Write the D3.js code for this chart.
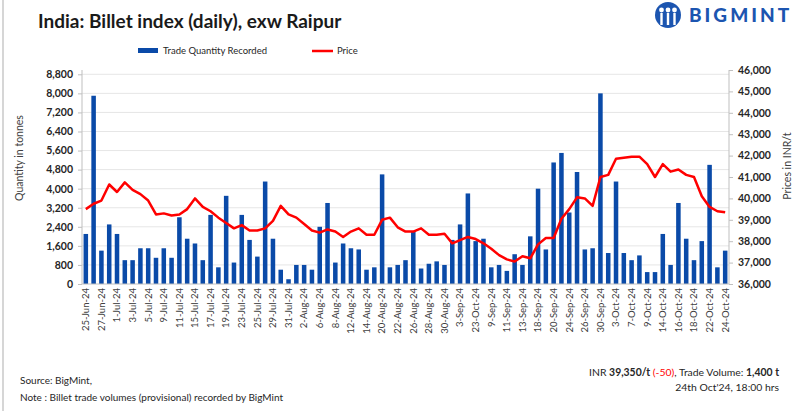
<!DOCTYPE html>
<html><head><meta charset="utf-8">
<script src="https://cdn.jsdelivr.net/npm/d3@7/dist/d3.min.js"></script>
<style>body{margin:0;background:#fff;} svg{display:block;font-family:Lato,"Open Sans",sans-serif;}</style>
</head><body>
<svg id="chart" width="795" height="411"></svg>
<script>
const dates = ["25-Jun-24","26-Jun-24","27-Jun-24","28-Jun-24","1-Jul-24","2-Jul-24","3-Jul-24","4-Jul-24","5-Jul-24","8-Jul-24",
"9-Jul-24","10-Jul-24","11-Jul-24","12-Jul-24","15-Jul-24","16-Jul-24","17-Jul-24","18-Jul-24","19-Jul-24","22-Jul-24",
"23-Jul-24","24-Jul-24","25-Jul-24","26-Jul-24","29-Jul-24","30-Jul-24","31-Jul-24","1-Aug-24","2-Aug-24","5-Aug-24",
"6-Aug-24","7-Aug-24","8-Aug-24","9-Aug-24","12-Aug-24","13-Aug-24","14-Aug-24","16-Aug-24","20-Aug-24","21-Aug-24",
"22-Aug-24","23-Aug-24","26-Aug-24","27-Aug-24","28-Aug-24","29-Aug-24","30-Aug-24","2-Sep-24","3-Sep-24","4-Sep-24",
"23-Oct-24","6-Sep-24","9-Sep-24","10-Sep-24","11-Sep-24","12-Sep-24","13-Sep-24","17-Sep-24","18-Sep-24","19-Sep-24",
"20-Sep-24","23-Sep-24","24-Sep-24","25-Sep-24","26-Sep-24","27-Sep-24","30-Sep-24","1-Oct-24","3-Oct-24","4-Oct-24",
"7-Oct-24","8-Oct-24","9-Oct-24","11-Oct-24","14-Oct-24","15-Oct-24","16-Oct-24","17-Oct-24","18-Oct-24","21-Oct-24",
"22-Oct-24","23-Oct-24","24-Oct-24"];
const quantity = [2100,7900,1400,2500,2100,1000,1000,1500,1500,1100,
1500,1100,2800,1900,1700,1000,2900,700,3700,900,
2900,1850,1150,4300,1900,600,200,800,800,600,
2400,3400,900,1700,1500,1450,600,700,4600,700,
800,1000,2200,650,850,950,800,1850,2500,3800,
1800,1900,700,800,550,1250,800,2000,4000,1450,
5100,5500,3000,4700,1450,1500,8000,1300,4300,1300,
1000,1200,500,500,2100,800,3400,1900,1000,1800,
5000,700,1400];
const price = [39500,39750,39900,40650,40300,40750,40400,40200,39900,39250,
39300,39200,39250,39500,40000,39600,39400,39100,38850,38600,
38750,38500,38500,38600,38950,39650,39250,39100,38800,38500,
38400,38550,38450,38200,38450,38600,38300,38300,39000,39100,
38650,38450,38450,38600,38300,38300,38350,37900,38050,38200,
38100,37900,37650,37350,37150,37050,37300,37200,37850,38150,
38150,39050,39500,40050,40000,39650,41000,41100,41850,41900,
41950,41950,41600,41000,41600,41250,41350,41100,41000,40100,
39600,39400,39350];
const leftTicks = [0,800,1600,2400,3200,4000,4800,5600,6400,7200,8000,8800];
const rightTicks = [36000,37000,38000,39000,40000,41000,42000,43000,44000,45000,46000];

const svg = d3.select("#chart");
const X0 = 82, X1 = 729, YB = 284;
const idx = d3.range(dates.length);
const x = d3.scaleBand().domain(idx).range([X0, X1]).paddingInner(0.42).paddingOuter(0.2);
const yL = d3.scaleLinear().domain([0, 8800]).range([YB, 74.3]);
const yR = d3.scaleLinear().domain([36000, 46000]).range([YB, 70]);
const fmt = d3.format(",");

// frame line
svg.append("line").attr("x1",3).attr("x2",3).attr("y1",0).attr("y2",411).attr("stroke","#c8c8c8").attr("stroke-width",1.5);

// title
svg.append("text").attr("x",38).attr("y",28).attr("font-size",19).attr("font-weight","bold").attr("fill","#1a1a1a")
  .text("India: Billet index (daily), exw Raipur");

// logo
const logo = svg.append("g").attr("transform","translate(668,15)");
logo.append("circle").attr("r",13).attr("fill","#1c55b0");
[-6.5,0,6.5].forEach(dx=>{
  logo.append("circle").attr("cx",dx).attr("cy",-5).attr("r",2.4).attr("fill","#fff");
  logo.append("rect").attr("x",dx-1.2).attr("y",-2).attr("width",2.4).attr("height",12).attr("fill","#fff");
});
svg.append("text").attr("x",689).attr("y",22).attr("font-size",19).attr("font-weight","900").attr("letter-spacing",3)
  .attr("fill","#1c55b0").text("BIGMINT");

// legend
svg.append("rect").attr("x",138).attr("y",48).attr("width",20).attr("height",5).attr("fill","#0a4aa8");
svg.append("text").attr("x",163).attr("y",54).attr("font-size",9.5).attr("fill","#262626").text("Trade Quantity Recorded");
svg.append("line").attr("x1",312).attr("x2",333).attr("y1",51).attr("y2",51).attr("stroke","#ff0000").attr("stroke-width",2.5);
svg.append("text").attr("x",337).attr("y",54).attr("font-size",9.5).attr("fill","#262626").text("Price");

// gridlines
svg.append("g").selectAll("line").data(leftTicks.slice(1)).join("line")
  .attr("x1",X0).attr("x2",X1).attr("y1",d=>yL(d)).attr("y2",d=>yL(d)).attr("stroke","#e6e6e6").attr("stroke-width",1);

// bars
svg.append("g").selectAll("rect").data(quantity).join("rect")
  .attr("x",(d,i)=>x(i)).attr("width",x.bandwidth()).attr("y",d=>yL(d)).attr("height",d=>YB-yL(d)).attr("fill","#0a4aa8");

// price line
svg.append("path").datum(price)
  .attr("d", d3.line().x((d,i)=>x(i)+x.bandwidth()/2).y(d=>yR(d)).curve(d3.curveLinear))
  .attr("fill","none").attr("stroke","#ff0000").attr("stroke-width",2.5).attr("stroke-linejoin","round");

// left axis
const la = svg.append("g").attr("transform",`translate(${X0},0)`)
  .call(d3.axisLeft(yL).tickValues(leftTicks).tickFormat(fmt).tickSize(4).tickPadding(5));
la.select(".domain").remove();
la.append("line").attr("x1",0).attr("x2",0).attr("y1",70).attr("y2",YB).attr("stroke","#bfbfbf");
la.selectAll(".tick line").attr("stroke","#bfbfbf");
la.selectAll(".tick text").attr("font-size",10.5).attr("font-weight","bold").attr("fill","#262626").attr("font-family","Lato");

// right axis
const ra = svg.append("g").attr("transform",`translate(${X1},0)`)
  .call(d3.axisRight(yR).tickValues(rightTicks).tickFormat(fmt).tickSize(4).tickPadding(5));
ra.select(".domain").remove();
ra.append("line").attr("x1",0).attr("x2",0).attr("y1",70).attr("y2",YB).attr("stroke","#bfbfbf");
ra.selectAll(".tick line").attr("stroke","#bfbfbf");
ra.selectAll(".tick text").attr("font-size",10.5).attr("font-weight","bold").attr("fill","#262626").attr("font-family","Lato");

// bottom axis
svg.append("line").attr("x1",X0).attr("x2",X1).attr("y1",YB).attr("y2",YB).attr("stroke","#bfbfbf");
const ba = svg.append("g").attr("transform",`translate(0,${YB})`)
  .call(d3.axisBottom(x).tickValues(idx.filter(i=>i%2===0)).tickFormat(i=>dates[i]).tickSize(0).tickPadding(0));
ba.select(".domain").remove();
ba.selectAll(".tick text").attr("font-size",9.5).attr("fill","#404040").attr("font-family","Lato")
  .attr("text-anchor","end").attr("dy","0.35em").attr("transform","translate(0,4) rotate(-90)").attr("x",0).attr("y",0);

// axis titles
svg.append("text").attr("transform","translate(23,158) rotate(-90)").attr("text-anchor","middle")
  .attr("font-size",10.5).attr("fill","#404040").text("Quantity in tonnes");
svg.append("text").attr("transform","translate(791,166) rotate(-90)").attr("text-anchor","middle")
  .attr("font-size",10.5).attr("fill","#404040").text("Prices in INR/t");

// footer
svg.append("text").attr("x",20).attr("y",384).attr("font-size",10).attr("fill","#262626").text("Source: BigMint,");
svg.append("text").attr("x",20).attr("y",401).attr("font-size",10).attr("fill","#262626").text("Note : Billet trade volumes (provisional) recorded by BigMint");
const f1 = svg.append("text").attr("x",779).attr("y",376).attr("font-size",10.4).attr("fill","#262626").attr("text-anchor","end");
f1.append("tspan").text("INR ");
f1.append("tspan").attr("font-weight","bold").text("39,350/t ");
f1.append("tspan").attr("fill","#ff0000").text("(-50)");
f1.append("tspan").text(", Trade Volume: ");
f1.append("tspan").attr("font-weight","bold").text("1,400 t");
svg.append("text").attr("x",779).attr("y",391).attr("font-size",10.4).attr("fill","#262626").attr("text-anchor","end").text("24th Oct'24, 18:00 hrs");
</script>
</body></html>
